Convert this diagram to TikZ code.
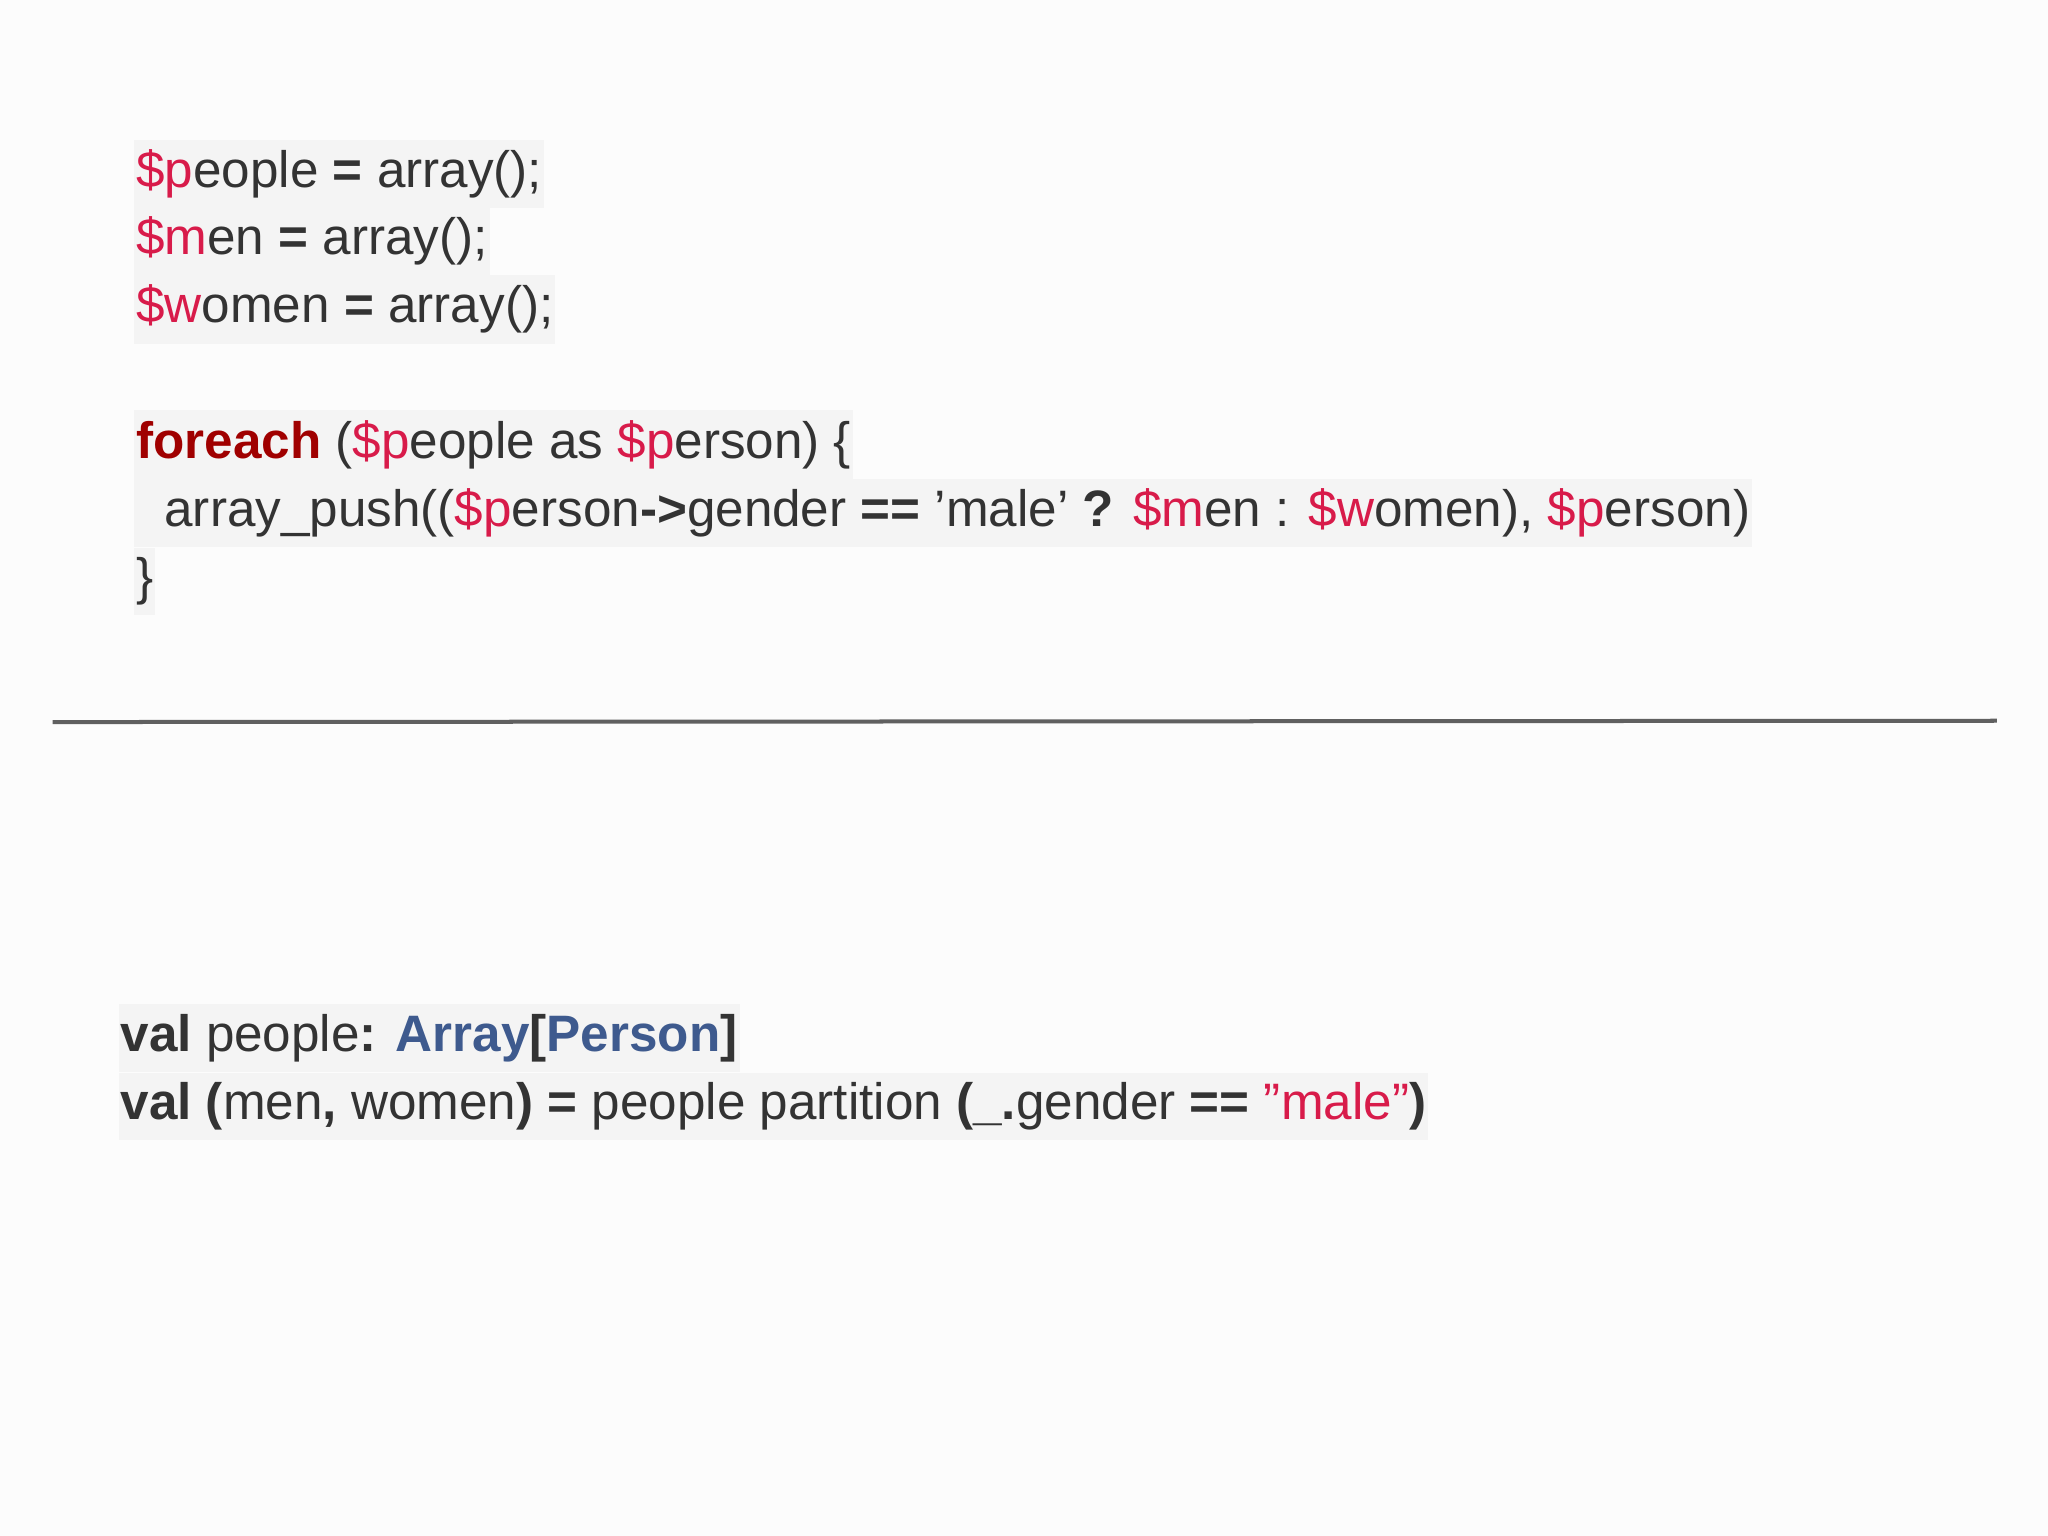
\documentclass[tikz,border=0pt]{standalone}
\usepackage{fontspec}
\setmainfont{Liberation Sans}
\definecolor{codebg}{HTML}{F4F4F4}
\definecolor{vr}{HTML}{D81B4A}
\definecolor{kw}{HTML}{A00000}
\definecolor{tx}{HTML}{333333}
\definecolor{ty}{HTML}{3E5A8E}
\definecolor{rule}{HTML}{606060}
\newcommand{\V}[1]{\textcolor{vr}{#1}}
\newcommand{\B}[1]{\textbf{#1}}
\begin{document}
\begin{tikzpicture}[x=0.656pt,y=-0.656pt,
  code/.style={anchor=base west,fill=codebg,inner xsep=1pt,inner ysep=5pt,text=tx,font=\fontsize{25.6}{30}\selectfont}]
\fill[white!98!gray] (0,0) rectangle (1560,1170);
\useasboundingbox (0,0) rectangle (1560,1170);
\node[code] (l1) at (102,143) {\V{\$p}eople \B{=} array();};
\node[code] (l2) at (102,194) {\V{\$m}en \B{=} array();};
\node[code] (l3) at (102,246) {\V{\$w}omen \B{=} array();};
\node[code] (l4) at (102,349) {\textcolor{kw}{\B{foreach}} (\V{\$p}eople as \V{\$p}erson) \{};
\node[code] (l5) at (102,401) {\hspace{0.55em}array\_push((\V{\$p}erson\B{->}gender \B{==} 'male' \B{?} \V{\$m}en : \V{\$w}omen), \V{\$p}erson)};
\node[code] (l6) at (102,453) {\}};
\coordinate (r1) at (40,550);
\coordinate (r2) at (1521,549);
\draw[rule,line width=2pt] (r1) -- (r2);
\node[code] (s1) at (90,801) {\B{val} people\B{:} \textcolor{ty}{\B{Array}}\B{[}\textcolor{ty}{\B{Person}}\B{]}};
\node[code] (s2) at (90,853) {\B{val (}men\B{,} women\B{) =} people partition \B{(\_.}gender \B{==} \V{"male"}\B{)}};
\end{tikzpicture}
\end{document}
